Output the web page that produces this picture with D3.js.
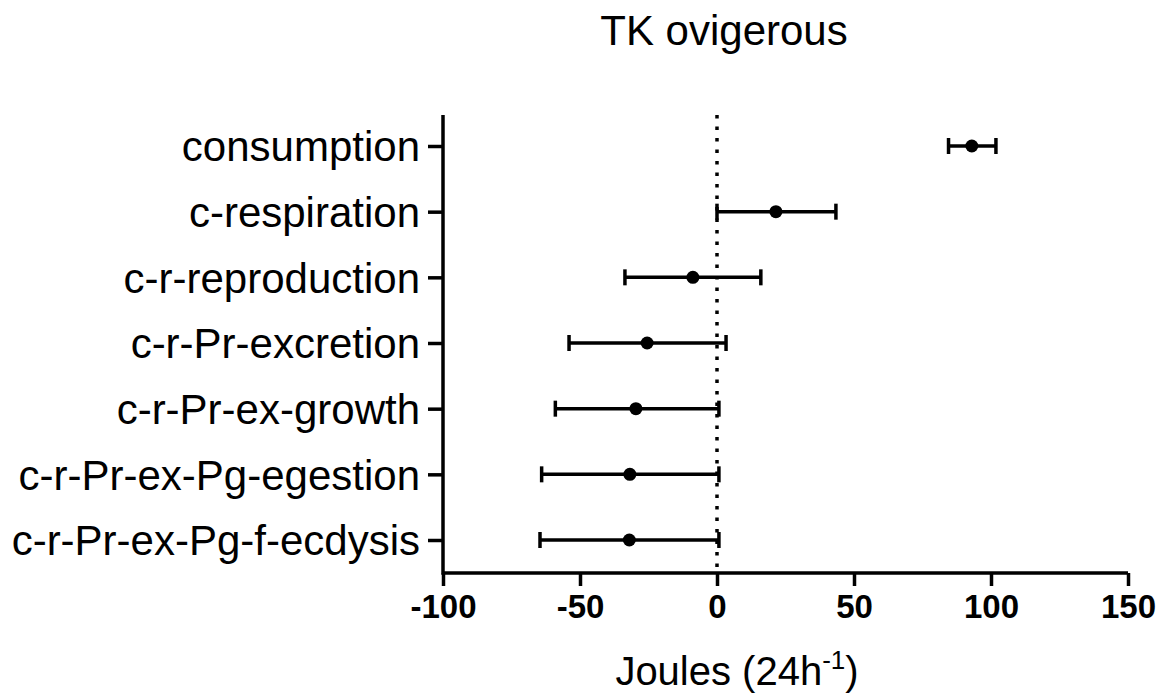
<!DOCTYPE html>
<html><head><meta charset="utf-8">
<script src="https://cdn.jsdelivr.net/npm/d3@7"></script>
<style>body{margin:0;background:#fff}svg{display:block}text{font-family:"Liberation Sans",Arial,sans-serif}</style>
</head><body><svg id="c" width="1162" height="695"></svg>
<script>
const categories = ["consumption","c-respiration","c-r-reproduction","c-r-Pr-excretion","c-r-Pr-ex-growth","c-r-Pr-ex-Pg-egestion","c-r-Pr-ex-Pg-f-ecdysis"];
const means = [93, 21.5, -8.8, -25.5, -29.6, -31.8, -32];
const lows = [84.5, 0, -33.6, -54, -59, -64, -64.6];
const highs = [101.8, 43.4, 16, 3.3, 0.7, 0.7, 0.7];
const xTicks = [-100, -50, 0, 50, 100, 150];

const svg = d3.select("#c");
const x = d3.scaleLinear().domain([-100,150]).range([443,1128]);
const y = d3.scalePoint().domain(categories).range([146,540]);
const yTop = 115, yBot = 573;

// zero line
svg.append("line").attr("x1",x(0)).attr("x2",x(0)).attr("y1",yTop).attr("y2",yBot)
  .attr("stroke","#000").attr("stroke-width",3.5).attr("stroke-dasharray","3.5,8");

// x axis
const xa = svg.append("g").attr("transform",`translate(0,${yBot})`)
  .call(d3.axisBottom(x).tickValues(xTicks).tickSize(13).tickSizeOuter(0).tickPadding(0).tickFormat(d=>String(d)));
xa.select(".domain").attr("stroke-width",3.5).attr("d",`M${x(-100)},0H${x(150)}`);
xa.selectAll(".tick line").attr("stroke-width",3.5);
xa.selectAll("text").attr("font-size",33).attr("font-weight","bold").attr("fill","#000")
  .attr("dy",null).attr("y",45)
  .attr("font-family","Liberation Sans, Arial, sans-serif");

// y axis
const ya = svg.append("g").attr("transform",`translate(${x(-100)},0)`)
  .call(d3.axisLeft(y).tickSize(15).tickSizeOuter(0).tickPadding(8));
ya.select(".domain").attr("stroke-width",3.5).attr("d",`M0,${yTop}V${yBot+1.75}`);
ya.selectAll(".tick line").attr("stroke-width",3.5);
ya.selectAll("text").attr("font-size",42).attr("fill","#000").attr("dy","0.35em")
  .attr("font-family","Liberation Sans, Arial, sans-serif");

// error bars
const data = categories.map((c,i)=>({c,m:means[i],lo:lows[i],hi:highs[i]}));
const g = svg.append("g");
g.selectAll("line.bar").data(data).enter().append("line")
  .attr("x1",d=>x(d.lo)).attr("x2",d=>x(d.hi)).attr("y1",d=>y(d.c)).attr("y2",d=>y(d.c))
  .attr("stroke","#000").attr("stroke-width",3.5);
["lo","hi"].forEach(k=>{
  g.selectAll("line.cap"+k).data(data).enter().append("line")
    .attr("x1",d=>x(d[k])).attr("x2",d=>x(d[k])).attr("y1",d=>y(d.c)-8).attr("y2",d=>y(d.c)+8)
    .attr("stroke","#000").attr("stroke-width",3.5);
});
g.selectAll("circle").data(data).enter().append("circle")
  .attr("cx",d=>x(d.m)).attr("cy",d=>y(d.c)).attr("r",6.5).attr("fill","#000");

// title
svg.append("text").attr("x",724).attr("y",45).attr("text-anchor","middle").attr("font-size",42).text("TK ovigerous");
// x label
const xl = svg.append("text").attr("x",737).attr("y",685).attr("text-anchor","middle").attr("font-size",40);
xl.append("tspan").text("Joules (24h");
xl.append("tspan").attr("font-size",26).attr("dy",-16).text("-1");
xl.append("tspan").attr("dy",16).text(")");
</script></body></html>
